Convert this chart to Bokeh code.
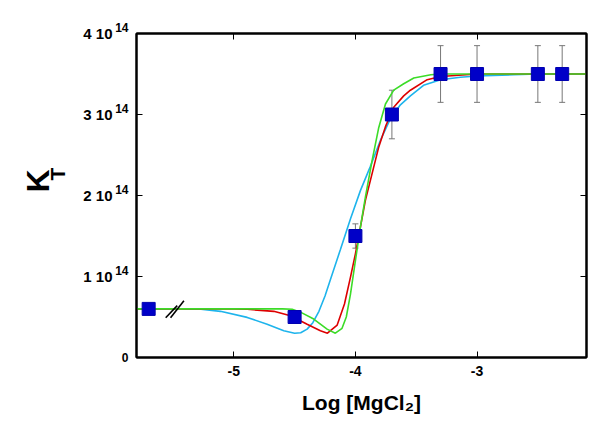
from bokeh.plotting import figure
from bokeh.models import (ColumnDataSource, Whisker, TeeHead, LinearAxis,
                          FixedTicker, Range1d, Title)
from bokeh.embed import file_html
from bokeh.resources import INLINE

# ---- measured data ----
log_mg = [-5.7, -4.5, -4.0, -3.7, -3.3, -3.0, -2.5, -2.3]
kt = [0.6e14, 0.5e14, 1.5e14, 3.0e14, 3.5e14, 3.5e14, 3.5e14, 3.5e14]
kt_err = [0.0, 0.0, 0.15e14, 0.30e14, 0.35e14, 0.35e14, 0.35e14, 0.35e14]

# ---- fitted curves (y in units of 1e14) ----
cyan_x = [-5.8, -5.45, -5.27, -5.11, -4.89, -4.726, -4.589, -4.5, -4.45, -4.397,
          -4.35, -4.30, -4.25, -4.206, -4.124, -4.041, -3.959, -3.877, -3.795,
          -3.712, -3.63, -3.548, -3.44, -3.30, -3.137, -3.0, -2.7, -2.5, -2.1]
cyan_y = [0.60, 0.60, 0.596, 0.57, 0.495, 0.41, 0.33, 0.30, 0.305, 0.35,
          0.43, 0.57, 0.76, 0.96, 1.33, 1.71, 2.06, 2.36, 2.68,
          2.95, 3.12, 3.23, 3.36, 3.43, 3.46, 3.475, 3.49, 3.50, 3.50]

red_x = [-5.8, -5.0, -4.89, -4.671, -4.534, -4.397, -4.288, -4.23, -4.15, -4.09,
         -4.041, -4.0, -3.959, -3.918, -3.863, -3.808, -3.753, -3.685, -3.603,
         -3.548, -3.41, -3.30, -3.0, -2.1]
red_y = [0.60, 0.60, 0.595, 0.57, 0.515, 0.41, 0.33, 0.30, 0.40, 0.66,
         0.99, 1.28, 1.61, 1.94, 2.27, 2.60, 2.85, 3.09, 3.23,
         3.30, 3.43, 3.47, 3.50, 3.50]

green_x = [-5.8, -4.6, -4.52, -4.452, -4.343, -4.233, -4.165, -4.11, -4.075,
           -4.041, -4.0, -3.959, -3.918, -3.863, -3.808, -3.753, -3.685, -3.603,
           -3.52, -3.38, -3.30, -2.1]
green_y = [0.60, 0.60, 0.595, 0.56, 0.475, 0.35, 0.30, 0.36, 0.50,
           0.78, 1.195, 1.61, 1.98, 2.43, 2.84, 3.13, 3.30, 3.38,
           3.45, 3.49, 3.50, 3.50]

x_ticks = [-5, -4, -3]
x_tick_labels = ["-5", "-4", "-3"]
y_ticks = [0, 1e14, 2e14, 3e14, 4e14]
y_tick_mant = ["", "1 10", "2 10", "3 10", "4 10"]
y_tick_exp = ["0", "14\n", "14\n", "14\n", "14\n"]

# axis-break mark ("//") on the baseline, y in units of 1e14
break_x0 = [-5.56, -5.52]
break_y0 = [0.49, 0.49]
break_x1 = [-5.465, -5.41]
break_y1 = [0.64, 0.70]

UNIT = 1e14
FONT = "Liberation Sans"
X0, X1 = -5.8, -2.1

p = figure(width=598, height=428, x_range=Range1d(X0, X1),
           y_range=Range1d(0, 4e14), output_backend="svg",
           toolbar_location=None, min_border_left=136, min_border_right=12,
           min_border_top=33, min_border_bottom=71)
p.grid.visible = False
p.outline_line_color = "black"
p.outline_line_width = 2
p.background_fill_color = "white"
p.border_fill_color = "white"


def style_ticks(ax):
    ax.axis_line_width = 2
    ax.axis_line_color = "black"
    ax.major_tick_in = 6
    ax.major_tick_out = 0
    ax.minor_tick_in = 0
    ax.minor_tick_out = 0
    ax.major_tick_line_color = "black"
    ax.major_label_text_color = "black"
    ax.major_label_text_font = FONT
    ax.major_label_text_font_style = "bold"


# bottom axis
xa = p.xaxis[0]
style_ticks(xa)
xa.ticker = FixedTicker(ticks=x_ticks)
xa.major_label_overrides = dict(zip(x_ticks, x_tick_labels))
xa.axis_label = "Log [MgCl₂]"
xa.axis_label_text_font = FONT
xa.axis_label_text_font_style = "bold"
xa.axis_label_text_font_size = "21px"
xa.axis_label_text_color = "black"
xa.axis_label_standoff = 12
xa.major_label_text_font_size = "14px"
xa.major_label_standoff = 8

# left axis: ticks + exponents ("14") raised above the tick line
ya = p.yaxis[0]
style_ticks(ya)
ya.ticker = FixedTicker(ticks=y_ticks)
ya.major_label_overrides = dict(zip(y_ticks, y_tick_exp))
ya.major_label_text_font_size = "12px"
ya.major_label_text_line_height = 0.8
ya.major_label_standoff = 8

# second left axis: mantissas ("3 10")
ya2 = LinearAxis(ticker=FixedTicker(ticks=y_ticks))
style_ticks(ya2)
ya2.axis_line_color = None
ya2.major_tick_line_color = None
ya2.major_tick_in = 0
ya2.major_label_overrides = dict(zip(y_ticks, y_tick_mant))
ya2.major_label_text_font_size = "15px"
ya2.major_label_standoff = 0
p.add_layout(ya2, "left")

# y-axis title K with subscript T
p.add_layout(Title(text="T", text_font=FONT, text_font_style="bold",
                   text_font_size="21px", text_color="black", align="left",
                   offset=177, standoff=24), "left")
p.add_layout(Title(text="K", text_font=FONT, text_font_style="bold",
                   text_font_size="32px", text_color="black", align="left",
                   offset=165, standoff=-48), "left")

# mirror axes (ticks only)
right = LinearAxis(ticker=FixedTicker(ticks=y_ticks))
right.major_label_overrides = {t: "" for t in y_ticks}
top = LinearAxis(ticker=FixedTicker(ticks=x_ticks))
top.major_label_overrides = {t: "" for t in x_ticks}
for ax in (right, top):
    style_ticks(ax)
    ax.major_label_standoff = 0
p.add_layout(right, "right")
p.add_layout(top, "above")

# curves
p.line(cyan_x, [v * UNIT for v in cyan_y], line_color="#1eb4ec", line_width=1.6)
p.line(red_x, [v * UNIT for v in red_y], line_color="#dd0000", line_width=1.6)
p.line(green_x, [v * UNIT for v in green_y], line_color="#3cdc28", line_width=1.6)

# break marks
p.segment(break_x0, [v * UNIT for v in break_y0], break_x1,
          [v * UNIT for v in break_y1], line_color="black", line_width=1.6)

# error bars
err_idx = [i for i, e in enumerate(kt_err) if e > 0]
esrc = ColumnDataSource(data=dict(
    x=[log_mg[i] for i in err_idx],
    upper=[kt[i] + kt_err[i] for i in err_idx],
    lower=[kt[i] - kt_err[i] for i in err_idx]))
wh = Whisker(source=esrc, base="x", upper="upper", lower="lower",
             line_color="#777777", line_width=1, level="underlay",
             upper_head=TeeHead(size=6, line_color="#777777", line_width=1),
             lower_head=TeeHead(size=6, line_color="#777777", line_width=1))
p.add_layout(wh)

# data markers
p.scatter(log_mg, kt, marker="square", size=13, fill_color="#0000c8",
          line_color="#0000b0", line_width=1)

open("out.html", "w").write(file_html(p, INLINE))
